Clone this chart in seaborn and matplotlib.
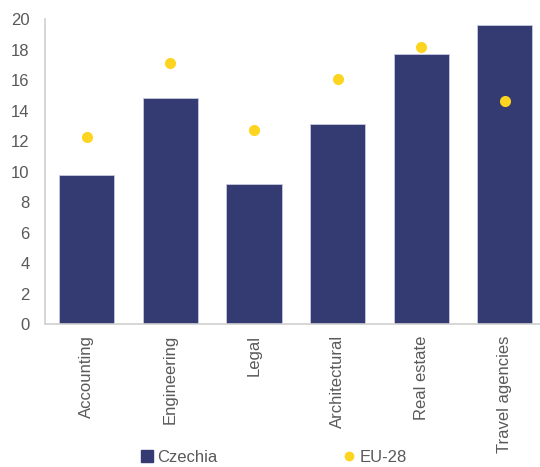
import seaborn as sns
import matplotlib.pyplot as plt
import pandas as pd
from matplotlib.lines import Line2D

sns.set_style('white')
plt.rcParams['font.family'] = ['Liberation Sans', 'DejaVu Sans']

sectors = ['Accounting', 'Engineering', 'Legal', 'Architectural', 'Real estate', 'Travel agencies']
czechia = [9.8, 14.8, 9.2, 13.1, 17.7, 19.6]
eu28 = [12.3, 17.1, 12.7, 16.1, 18.2, 14.6]

bar_col = '#343b72'
dot_col = '#fdd41f'
txt_col = '#595959'

df = pd.DataFrame({'sector': sectors, 'Czechia': czechia, 'EU-28': eu28})

fig = plt.figure(figsize=(5.4, 4.67), dpi=100)
ax = fig.add_axes([0.083, 0.306, 0.917, 0.653])

sns.barplot(data=df, x='sector', y='Czechia', color=bar_col, width=0.66,
            saturation=1, edgecolor='#c8cade', linewidth=0.6, ax=ax)
sns.stripplot(data=df, x='sector', y='EU-28', color=dot_col, jitter=False,
              size=8, ax=ax, zorder=3)

ax.set_ylim(0, 20)
ax.set_xlim(-0.5, 5.42)
ax.set_yticks(range(0, 21, 2))
ax.set_xlabel('')
ax.set_ylabel('')
ax.tick_params(axis='both', length=0, labelsize=12, labelcolor=txt_col)
ax.tick_params(axis='y', pad=11)
ax.tick_params(axis='x', labelrotation=90, pad=8)

sns.despine(ax=ax)
for s in ['left', 'bottom']:
    ax.spines[s].set_color('#d0d0d0')
    ax.spines[s].set_linewidth(1.2)

handles = [
    Line2D([], [], marker='s', linestyle='', color=bar_col, markersize=8),
    Line2D([], [], marker='o', linestyle='', color=dot_col, markersize=6),
]
fig.legend(handles, ['Czechia', 'EU-28'], loc='center', bbox_to_anchor=(0.505, 0.02),
           ncol=2, frameon=False, fontsize=12, labelcolor=txt_col,
           handletextpad=0.1, columnspacing=7.4, handlelength=1.0)

fig.savefig('out.png', dpi=100)
